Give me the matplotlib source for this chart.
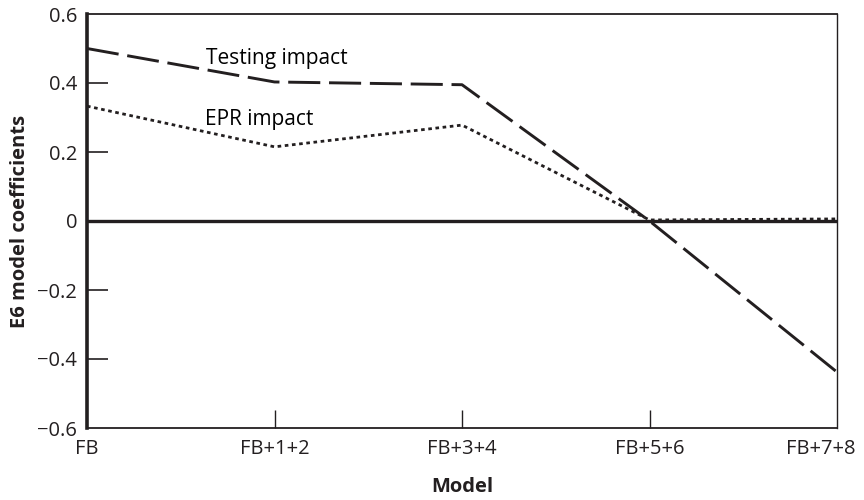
#!/usr/bin/env python3
import matplotlib.pyplot as plt
from matplotlib.transforms import ScaledTranslation

plt.rcParams['font.family'] = ['Open Sans', 'DejaVu Sans']

# Data
models = ['FB', 'FB+1+2', 'FB+3+4', 'FB+5+6', 'FB+7+8']
testing = [0.50, 0.403, 0.395, 0.0, -0.438]
epr = [0.333, 0.215, 0.278, 0.003, 0.006]
yticks = [-0.6, -0.4, -0.2, 0, 0.2, 0.4, 0.6]
ylabels = ['\u22120.6', '\u22120.4', '\u22120.2', '0', '0.2', '0.4', '0.6']

fig = plt.figure(figsize=(8.64, 5), dpi=100)
ax = fig.add_axes([0.1007, 0.144, 0.8681, 0.828])

x = list(range(len(models)))
ax.axhline(0, color='#231f20', linewidth=2.4, zorder=1)
ax.plot(x, testing, color='#231f20', linewidth=2.1, dashes=(11, 3), zorder=3)
ax.plot(x, epr, color='#231f20', linewidth=2.0, dashes=(1.3, 1.3), zorder=2)

ax.text(1.01, 0.47, 'Testing impact', fontsize=15, ha='center', va='center')
ax.text(0.92, 0.293, 'EPR impact', fontsize=15, ha='center', va='center')

ax.set_xlim(0, 4)
ax.set_ylim(-0.6, 0.6)
ax.set_xticks(x)
ax.set_xticklabels(models)
ax.set_yticks(yticks)
ax.set_yticklabels(ylabels)
ax.tick_params(axis='y', direction='in', length=15, width=1.2, pad=7,
               labelsize=14.5, color='#231f20', labelcolor='#231f20')
ax.tick_params(axis='x', direction='in', length=13, width=1.0, pad=8,
               labelsize=14.5, color='#231f20', labelcolor='#231f20')
# hide the ticks that sit on the corners
ax.xaxis.get_major_ticks()[0].tick1line.set_visible(False)
ax.xaxis.get_major_ticks()[-1].tick1line.set_visible(False)
ax.yaxis.get_major_ticks()[0].tick1line.set_visible(False)
ax.yaxis.get_major_ticks()[-1].tick1line.set_visible(False)

# last x label is pulled left so it stays inside the figure
last = ax.get_xticklabels()[-1]
last.set_transform(last.get_transform() + ScaledTranslation(-0.16, 0, fig.dpi_scale_trans))

ax.spines['left'].set_linewidth(2.6)
ax.spines['bottom'].set_linewidth(1.3)
ax.spines['top'].set_linewidth(1.3)
ax.spines['right'].set_linewidth(1.0)
for s in ax.spines.values():
    s.set_color('#231f20')

ax.set_xlabel('Model', fontsize=14.5, fontweight='bold', labelpad=13, color='#231f20')
ax.set_ylabel('E6 model coefficients', fontsize=14.5, fontweight='bold', labelpad=5,
              color='#231f20')

plt.savefig('out.png')
